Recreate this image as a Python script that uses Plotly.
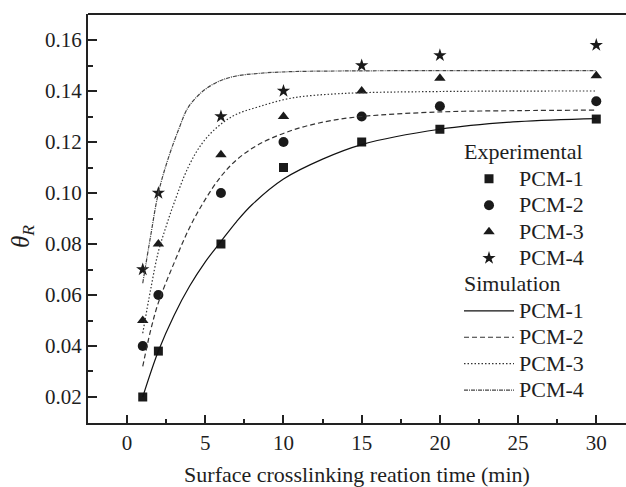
import plotly.graph_objects as go

# Experimental data
exp_x = [1, 2, 6, 10, 15, 20, 30]
exp_pcm1 = [0.020, 0.038, 0.080, 0.110, 0.120, 0.125, 0.129]
exp_pcm2 = [0.040, 0.060, 0.100, 0.120, 0.130, 0.134, 0.136]
exp_pcm3 = [0.050, 0.080, 0.115, 0.130, 0.140, 0.145, 0.146]
exp_pcm4 = [0.070, 0.100, 0.130, 0.140, 0.150, 0.154, 0.158]

# Simulation curves
sim1_x = [1, 2, 3, 4, 5, 6, 7, 8, 10, 12.5, 15, 20, 25, 30]
sim1_y = [0.020, 0.038, 0.052, 0.0635, 0.0730, 0.0810, 0.0888, 0.0955, 0.1055, 0.1133, 0.1190, 0.1250, 0.1280, 0.1292]
sim2_x = [1, 1.5, 2, 3, 4, 5, 6, 7, 8.4, 10.5, 12.7, 15, 20, 25, 30]
sim2_y = [0.032, 0.046, 0.057, 0.0725, 0.0865, 0.0975, 0.1065, 0.1130, 0.1190, 0.1245, 0.1280, 0.1300, 0.1318, 0.1323, 0.1325]
sim3_x = [1, 1.5, 2, 2.5, 3, 3.9, 4.8, 5.8, 6.9, 8.4, 10.5, 13.7, 20, 30]
sim3_y = [0.045, 0.062, 0.077, 0.087, 0.096, 0.110, 0.1195, 0.126, 0.1306, 0.1338, 0.1372, 0.139, 0.1398, 0.140]
sim4_x = [1, 1.5, 2, 2.6, 3.3, 3.9, 4.8, 5.8, 6.9, 8.4, 10.5, 15, 20, 30]
sim4_y = [0.0646, 0.083, 0.100, 0.113, 0.125, 0.1335, 0.1397, 0.1436, 0.1458, 0.1469, 0.1476, 0.1479, 0.148, 0.148]

labels = ["PCM-1", "PCM-2", "PCM-3", "PCM-4"]
group_titles = ["Experimental", "Simulation"]
symbols = ["square", "circle", "triangle-up", "star"]
msizes = [9, 10, 10, 10]
dashes = ["solid", "5px,3px", "1.5px,2px", "4px,1px,1px,1px"]
lcolors = ["#111111", "#333333", "#333333", "#444444"]

FONT = "Liberation Serif, Times New Roman, serif"
TXT = "#1e1e1e"


def big(t):
    return f'<span style="font-size:22px">{t}</span>'


fig = go.Figure()

exp_sets = [exp_pcm1, exp_pcm2, exp_pcm3, exp_pcm4]
for i, ys in enumerate(exp_sets):
    kw = {}
    if i == 0:
        kw["legendgrouptitle"] = dict(text=big(group_titles[0]), font=dict(family=FONT, size=18, color=TXT))
    fig.add_trace(go.Scatter(
        x=exp_x, y=ys, mode="markers", name=big(labels[i]),
        marker=dict(symbol=symbols[i], size=msizes[i], color="#1a1a1a", line=dict(width=0)),
        legendgroup="exp", **kw,
    ))

sim_sets = [(sim1_x, sim1_y), (sim2_x, sim2_y), (sim3_x, sim3_y), (sim4_x, sim4_y)]
for i, (xs, ys) in enumerate(sim_sets):
    kw = {}
    if i == 0:
        kw["legendgrouptitle"] = dict(text=big(group_titles[1]), font=dict(family=FONT, size=18, color=TXT))
    fig.add_trace(go.Scatter(
        x=xs, y=ys, mode="lines", name=big(labels[i]), line_shape="spline",
        line=dict(color=lcolors[i], width=1.2, dash=dashes[i]),
        legendgroup="sim", **kw,
    ))

fig.update_layout(
    width=626, height=487,
    margin=dict(l=88, r=0, t=14, b=64),
    paper_bgcolor="white", plot_bgcolor="white",
    font=dict(family=FONT, size=21, color=TXT),
    legend=dict(
        x=0.6896, y=0.706, xanchor="left", yanchor="top",
        bgcolor="rgba(0,0,0,0)", font=dict(family=FONT, size=18, color=TXT),
        tracegroupgap=0, itemwidth=50,
    ),
    xaxis=dict(
        range=[-2.5, 31.9], showgrid=False, zeroline=False,
        showline=True, linecolor="#222", linewidth=2,
        ticks="inside", ticklen=8, tickwidth=1.5, tickcolor="#222",
        tickvals=[0, 5, 10, 15, 20, 25, 30],
        minor=dict(tickvals=[2.5, 7.5, 12.5, 17.5, 22.5, 27.5], ticks="inside", ticklen=4, tickwidth=1.5, tickcolor="#222"),
        tickfont=dict(size=21),
        title=dict(text="Surface crosslinking reation time (min)", font=dict(size=22), standoff=12),
    ),
    yaxis=dict(
        range=[0.0098, 0.1702], showgrid=False, zeroline=False,
        showline=True, linecolor="#222", linewidth=2,
        ticks="inside", ticklen=9, tickwidth=1.5, tickcolor="#222",
        tickvals=[0.02, 0.04, 0.06, 0.08, 0.10, 0.12, 0.14, 0.16],
        ticktext=["0.02", "0.04", "0.06", "0.08", "0.10", "0.12", "0.14", "0.16"],
        minor=dict(tickvals=[0.01, 0.03, 0.05, 0.07, 0.09, 0.11, 0.13, 0.15, 0.17], ticks="inside", ticklen=5, tickwidth=1.5, tickcolor="#222"),
        tickfont=dict(size=21),
    ),
    annotations=[dict(
        text="<i>θ</i><sub><i>R</i></sub>", textangle=-90,
        xref="paper", yref="paper", x=-0.1227, y=0.457,
        xanchor="center", yanchor="middle", showarrow=False,
        font=dict(family=FONT, size=25, color=TXT),
    )],
    shapes=[dict(type="line", xref="paper", yref="paper", x0=0, x1=1, y0=1, y1=1,
                 line=dict(color="#222", width=2))],
)

fig.write_html("out.html")
